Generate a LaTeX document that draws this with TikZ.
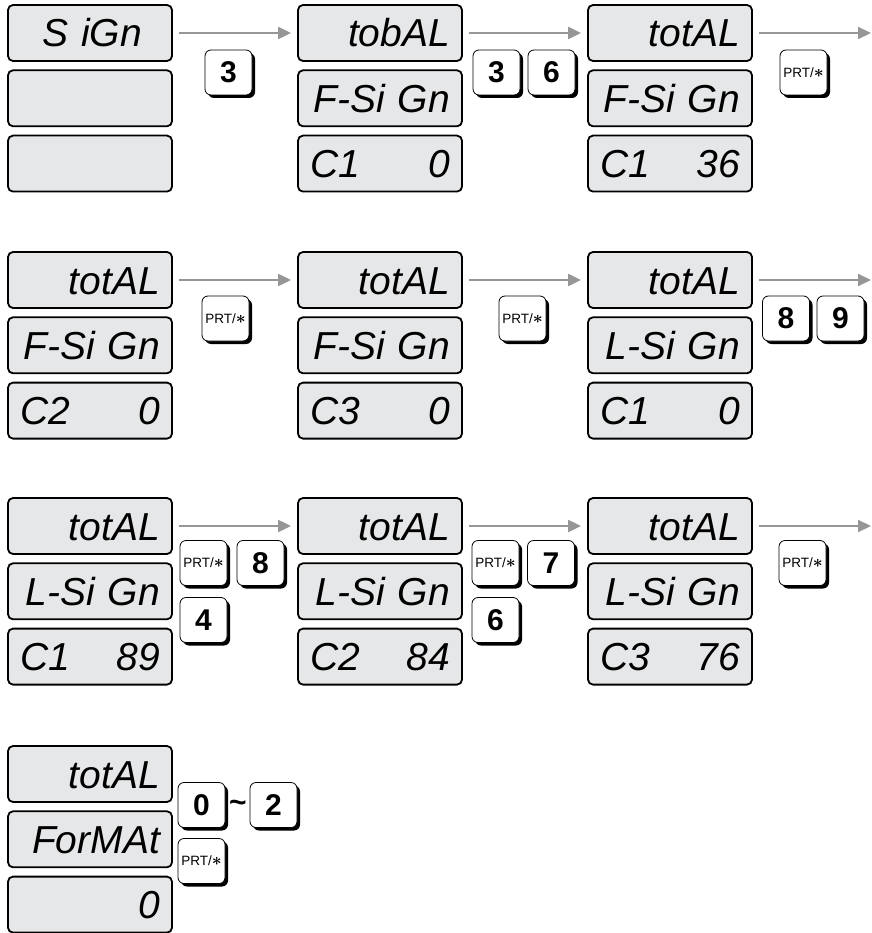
\documentclass[tikz,border=0pt]{standalone}
\usepackage{fontspec}
\newfontfamily\lcdfont{Liberation Sans}
\newfontfamily\keyfont{Liberation Sans}
\usetikzlibrary{arrows.meta,shadows}
\definecolor{lcdgray}{RGB}{230,231,232}
\definecolor{arrgray}{RGB}{150,150,150}
\newcommand\prtstar{{\fontsize{17}{17}\selectfont\boldmath$\ast$}}
\tikzset{
 lcd/.style={draw=black, line width=1.8pt, rounded corners=5pt, fill=lcdgray,
   minimum width=164pt, minimum height=56pt, inner xsep=12pt, inner ysep=0pt,
   text width=140pt, align=right, text height=28pt, text depth=0pt,
   font=\lcdfont\itshape\fontsize{39}{39}\selectfont},
 keybox/.style={draw=black, line width=0.8pt, fill=white, rounded corners=6pt,
   minimum width=47pt, minimum height=45pt, inner sep=0pt,
   drop shadow={shadow xshift=3pt, shadow yshift=-3pt, opacity=1, fill=black}},
 numkey/.style={keybox, font=\keyfont\bfseries\fontsize{30}{30}\selectfont},
 prtkey/.style={keybox, font=\keyfont\fontsize{13.5}{13.5}\selectfont},
 arr/.style={draw=arrgray, line width=2pt, -{Triangle[length=13pt,width=12pt]},
   shorten <=6pt, shorten >=6pt}
}
\newcommand\lcdstack[6]{%
 \node[lcd] (#1a) at (#2,#3+28) {#4};
 \node[lcd] (#1b) at (#2,#3+93.3) {#5};
 \node[lcd] (#1c) at (#2,#3+158.6) {#6};
}
\begin{document}
\begin{tikzpicture}[x=1pt,y=-1pt]
\useasboundingbox (0,0) rectangle (871,933);
% row 1
\lcdstack{d11}{90}{5}{S iGn\rule{18pt}{0pt}}{}{}
\lcdstack{d12}{380}{5}{tobAL}{F-Si Gn}{C1\hfill 0}
\lcdstack{d13}{670}{5}{totAL}{F-Si Gn}{C1\hfill 36}
% row 2
\lcdstack{d21}{90}{252}{totAL}{F-Si Gn}{C2\hfill 0}
\lcdstack{d22}{380}{252}{totAL}{F-Si Gn}{C3\hfill 0}
\lcdstack{d23}{670}{252}{totAL}{L-Si Gn}{C1\hfill 0}
% row 3
\lcdstack{d31}{90}{498}{totAL}{L-Si Gn}{C1\hfill 89}
\lcdstack{d32}{380}{498}{totAL}{L-Si Gn}{C2\hfill 84}
\lcdstack{d33}{670}{498}{totAL}{L-Si Gn}{C3\hfill 76}
% row 4
\lcdstack{d41}{90}{746}{totAL}{ForMAt}{0}
% arrows
\coordinate (e1) at (871,33);
\coordinate (e2) at (871,280);
\coordinate (e3) at (871,526);
\draw[arr] (d11a) -- (d12a);
\draw[arr] (d12a) -- (d13a);
\draw[arr, shorten >=0pt] (d13a) -- (e1);
\draw[arr] (d21a) -- (d22a);
\draw[arr] (d22a) -- (d23a);
\draw[arr, shorten >=0pt] (d23a) -- (e2);
\draw[arr] (d31a) -- (d32a);
\draw[arr] (d32a) -- (d33a);
\draw[arr, shorten >=0pt] (d33a) -- (e3);
% keys row 1
\node[numkey] (k11) at (228.5,72.5) {3};
\node[numkey] (k12) at (496.5,72.5) {3};
\node[numkey] (k13) at (551.5,72.5) {6};
\node[prtkey] (k14) at (803.5,72.5) {PRT/\prtstar};
% keys row 2
\node[prtkey] (k21) at (225.5,318.5) {PRT/\prtstar};
\node[prtkey] (k22) at (522.5,318.5) {PRT/\prtstar};
\node[numkey] (k23) at (786,318.5) {8};
\node[numkey] (k24) at (840.5,318.5) {9};
% keys row 3
\node[prtkey] (k31) at (203.5,563) {PRT/\prtstar};
\node[numkey] (k32) at (260.5,563) {8};
\node[numkey] (k33) at (203.5,620) {4};
\node[prtkey] (k34) at (495.5,563) {PRT/\prtstar};
\node[numkey] (k35) at (551,563) {7};
\node[numkey] (k36) at (495.5,620) {6};
\node[prtkey] (k37) at (802.5,563) {PRT/\prtstar};
% keys row 4
\node[numkey] (k41) at (201.5,805) {0};
\node[font=\keyfont\bfseries\fontsize{30}{30}\selectfont, inner sep=0pt] (tl) at (238,806) {\textasciitilde};
\node[numkey] (k42) at (273.5,805) {2};
\node[prtkey] (k43) at (201.5,861) {PRT/\prtstar};
\end{tikzpicture}
\end{document}
